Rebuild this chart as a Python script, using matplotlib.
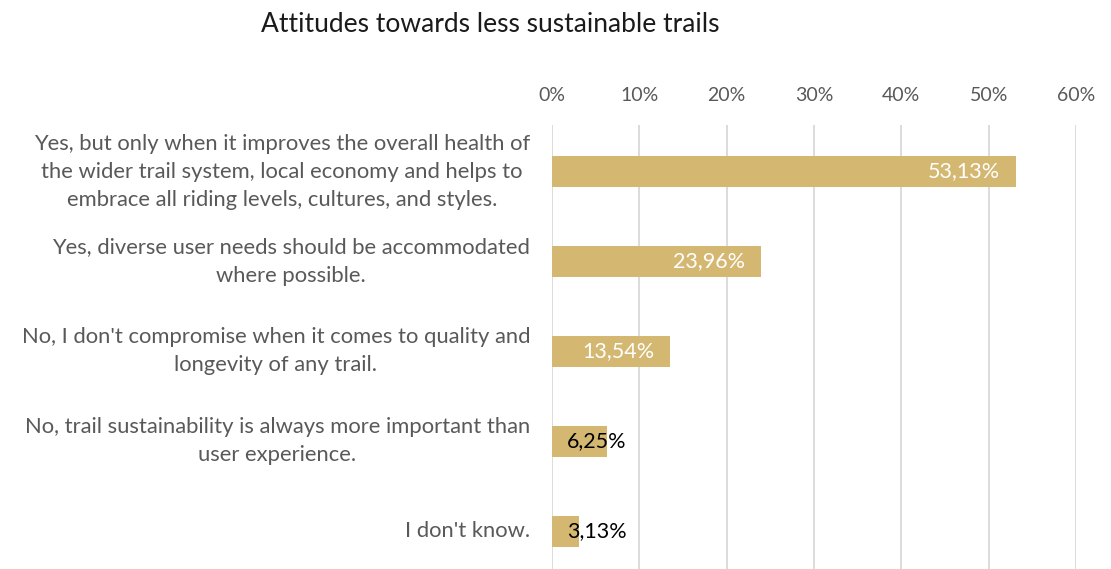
import matplotlib
matplotlib.use("Agg")
import matplotlib.pyplot as plt
from matplotlib.ticker import FixedLocator

categories = [
    "Yes, but only when it improves the overall health of\n"
    "the wider trail system, local economy and helps to\n"
    "embrace all riding levels, cultures, and styles.",
    "Yes, diverse user needs should be accommodated\nwhere possible.",
    "No, I don't compromise when it comes to quality and\nlongevity of any trail.",
    "No, trail sustainability is always more important than\nuser experience.",
    "I don't know.",
]
values = [53.13, 23.96, 13.54, 6.25, 3.13]
value_labels = ["53,13%", "23,96%", "13,54%", "6,25%", "3,13%"]
tick_values = [0, 10, 20, 30, 40, 50, 60]
tick_labels = ["0%", "10%", "20%", "30%", "40%", "50%", "60%"]
title = "Attitudes towards less sustainable trails"

BAR = "#D4B872"
GRID = "#D9D9D9"
TEXT = "#595959"
FONT = ["Lato", "DejaVu Sans"]

plt.rcParams["font.family"] = FONT

fig = plt.figure(figsize=(11.11, 5.69), dpi=100)
ax = fig.add_axes([552 / 1111, 0.0, (1076 - 552) / 1111, 1 - 125 / 569])

ypos = list(range(len(categories)))
ax.barh(ypos, values, height=0.345, color=BAR, zorder=2)

ax.set_xlim(0, 60)
ax.set_ylim(4.417, -0.517)

ax.xaxis.set_major_locator(FixedLocator(tick_values))
ax.set_xticklabels(tick_labels)
ax.xaxis.tick_top()
ax.tick_params(axis="x", length=0, pad=15, labelsize=14, labelcolor=TEXT)
ax.grid(axis="x", color=GRID, linewidth=1.3, zorder=0)
ax.set_yticks([])
for s in ax.spines.values():
    s.set_visible(False)

for y, lab in zip(ypos, categories):
    ax.annotate(lab, xy=(0, y), xytext=(-22, 0), textcoords="offset pixels",
                ha="right", va="center", multialignment="center",
                fontsize=15.8, color=TEXT, linespacing=1.5)

for y, v, lab in zip(ypos, values, value_labels):
    if v > 10:
        ax.annotate(lab, xy=(v, y), xytext=(-16, 0), textcoords="offset pixels",
                    ha="right", va="center", fontsize=15.5, color="white")
    else:
        ax.annotate(lab, xy=(0, y), xytext=(15, 0), textcoords="offset pixels",
                    ha="left", va="center", fontsize=15.5, color="black")

fig.text(490 / 1111, 1 - 25 / 569, title, ha="center", va="center",
         fontsize=19, fontweight="normal", color="#1a1a1a")

fig.savefig("out.png", dpi=100, facecolor="white")
